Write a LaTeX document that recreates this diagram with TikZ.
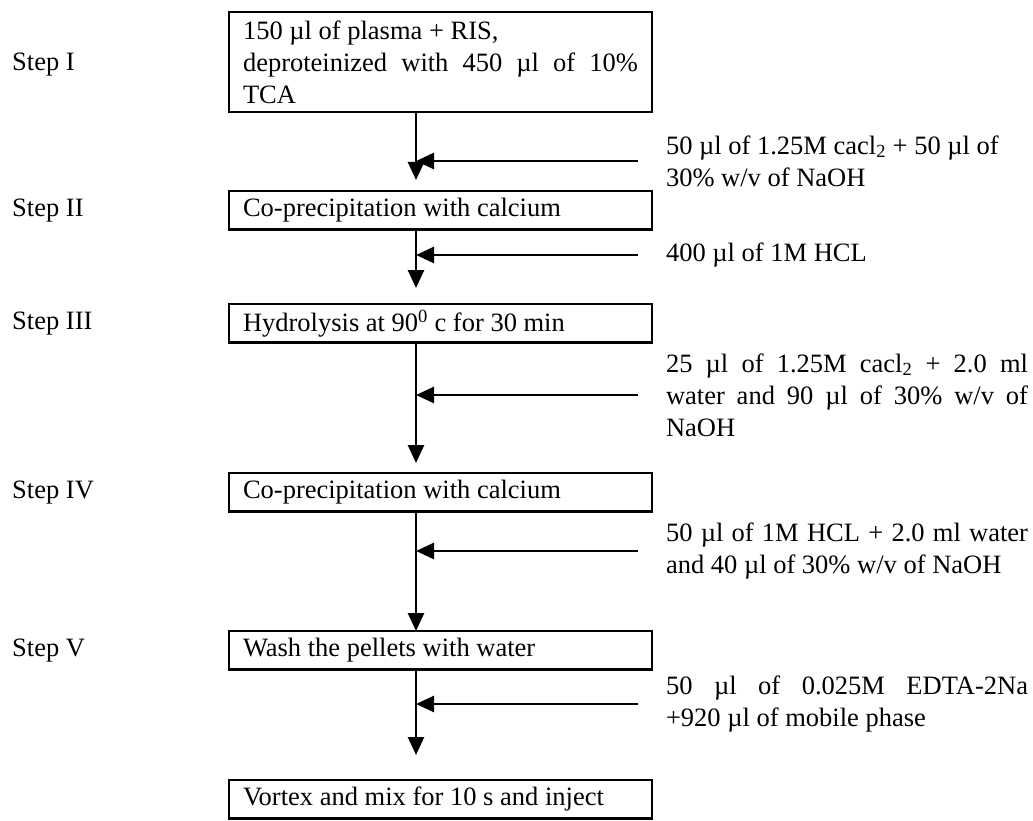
\documentclass[tikz,border=0pt]{standalone}
\usepackage{fontspec}
\setmainfont{Liberation Serif}
\usetikzlibrary{arrows.meta}

\begin{document}
\begin{tikzpicture}[
      x = 1pt, y = -1pt,
      font = \fontsize{26.5}{32}\selectfont,
      >= {Triangle[width = 16pt, length = 18pt]},
      stepbox/.style = {
        rectangle,
        draw = black, line width = 2.8pt,
        anchor = north west,
        align = justify,
        text width = 395pt,
        inner xsep = 14pt,
        inner ysep = 4pt,
        minimum height = 38.5pt,
        outer sep = 0,
      },
      reagent/.style = {
        anchor = west,
        align = justify,
        text width = 362pt,
        inner sep = 0,
        outer xsep = 28pt,
      },
      steplabel/.style = {
        anchor = west,
        inner sep = 0,
      }
    ]
    \useasboundingbox (0,0) rectangle (1033,821);
    \coordinate (left) at (12,0);
    \coordinate (axis) at (416,0);

    % the chain of steps
    \node[stepbox, minimum height = 100pt] (b1) at (229,12)
      {150 µl of plasma + RIS,\\ deproteinized with 450 µl of 10\% TCA};
    \node[stepbox] (b2) at (229,191) {Co-precipitation with calcium};
    \node[stepbox] (b3) at (229,304) {Hydrolysis at 90\textsuperscript{0} c for 30 min};
    \node[stepbox] (b4) at (229,473) {Co-precipitation with calcium};
    \node[stepbox] (b5) at (229,631) {Wash the pellets with water};
    \node[stepbox] (b6) at (229,780) {Vortex and mix for 10 s and inject};

    \node[steplabel] (s1) at ([yshift = -3pt]b1.west -| left) {Step I};
    \node[steplabel] (s2) at (b2.west -| left) {Step II};
    \node[steplabel] (s3) at (b3.west -| left) {Step III};
    \node[steplabel] (s4) at (b4.west -| left) {Step IV};
    \node[steplabel] (s5) at (b5.west -| left) {Step V};

    % what is added between the steps
    \node[reagent] (r1) at (638,161)
      {50 µl of 1.25M cacl\textsubscript{2} + 50 µl of\\ 30\% w/v of NaOH};
    \node[reagent] (r2) at (638,255) {400 µl of 1M HCL};
    \node[reagent] (r3) at (638,395)
      {25 µl of 1.25M cacl\textsubscript{2} + 2.0 ml\linebreak water and 90 µl of 30\% w/v of\linebreak NaOH};
    \node[reagent] (r4) at (638,551)
      {50 µl of 1M HCL + 2.0 ml water and 40 µl of 30\% w/v of NaOH};
    \node[reagent] (r5) at (638,704)
      {50 µl of 0.025M EDTA-2Na\linebreak +920 µl of mobile phase};

    \begin{scope}[line width = 2.8pt, ->]
      \draw[shorten >= 11pt] (b1.south -| axis) -- (b2.north -| axis);
      \draw[shorten >= 16pt] (b2.south -| axis) -- (b3.north -| axis);
      \draw[shorten >= 10pt] (b3.south -| axis) -- (b4.north -| axis);
      \draw (b4.south -| axis) -- (b5.north -| axis);
      \draw[shorten >= 25pt] (b5.south -| axis) -- (b6.north -| axis);

      \draw (r1.west) -- (r1.west -| axis);
      \draw (r2.west) -- (r2.west -| axis);
      \draw (r3.west) -- (r3.west -| axis);
      \draw (r4.west) -- (r4.west -| axis);
      \draw (r5.west) -- (r5.west -| axis);
    \end{scope}

  \end{tikzpicture}
\end{document}
